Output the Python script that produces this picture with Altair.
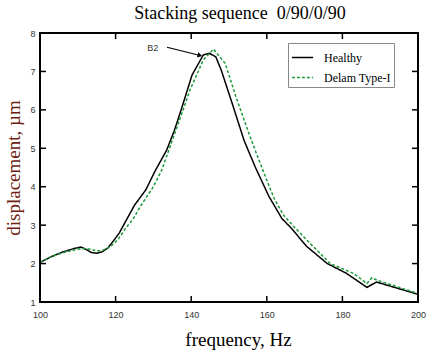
import altair as alt
import pandas as pd

# ---- data ----
healthy_f = [100, 103, 106, 109, 110.8, 112, 113.5, 115, 116.5, 118, 119.5, 121, 123, 125, 128,
             130.5, 133.5, 135.5, 137.5, 140.2, 143.2, 144.8, 146.5, 148, 151, 154, 157, 160.5,
             164, 166.5, 170.5, 176, 181, 186.5, 189, 200]
healthy_v = [2.03, 2.18, 2.30, 2.39, 2.43, 2.38, 2.29, 2.27, 2.31, 2.41, 2.60, 2.80, 3.16, 3.52, 3.92,
             4.42, 4.95, 5.45, 6.05, 6.90, 7.43, 7.47, 7.38, 7.02, 6.12, 5.20, 4.50, 3.76,
             3.17, 2.92, 2.45, 2.00, 1.75, 1.38, 1.52, 1.20]

delam_f = [100, 103, 106, 109, 111, 113, 115, 116.5, 118.5, 120.7, 122.5, 124.7, 126.5, 130, 132.2,
           134.4, 136.6, 139.7, 143.2, 145.9, 149, 152.1, 155.6, 157.5, 160, 162, 164.5, 167,
           171.5, 176.8, 183, 186.5, 187.8, 189.1, 200]
delam_v = [2.03, 2.18, 2.28, 2.35, 2.39, 2.38, 2.33, 2.34, 2.43, 2.63, 2.90, 3.17, 3.48, 4.00, 4.43,
           5.04, 5.65, 6.52, 7.30, 7.58, 7.21, 6.26, 5.30, 4.80, 4.17, 3.68, 3.25, 2.98,
           2.52, 2.00, 1.74, 1.48, 1.63, 1.57, 1.22]

series_names = ["Healthy", "Delam Type-I"]
series_colors = ["black", "#1f9a3c"]
x_ticks = [100, 120, 140, 160, 180, 200]
y_ticks = [1, 2, 3, 4, 5, 6, 7, 8]
x_inner_ticks = [120, 140, 160, 180]
y_inner_ticks = [2, 3, 4, 5, 6, 7]

annot_text = ["B2"]
annot_f = [129.8]
annot_v = [7.6]
arrow_from_f, arrow_from_v = [133.6], [7.63]
arrow_to_f, arrow_to_v = [142.1], [7.42]

W, H = 378, 269
SERIF = "Liberation Serif"
SANS = "Liberation Sans"
XMIN, XMAX, YMIN, YMAX = 100, 200, 1, 8
TICK_PX = 6
dx_tick = TICK_PX * (XMAX - XMIN) / W
dy_tick = TICK_PX * (YMAX - YMIN) / H

xscale = alt.Scale(domain=[XMIN, XMAX], nice=False, zero=False)
yscale = alt.Scale(domain=[YMIN, YMAX], nice=False, zero=False)

lines_df = pd.DataFrame({
    "freq": healthy_f + delam_f,
    "disp": healthy_v + delam_v,
    "series": [series_names[0]] * len(healthy_f) + [series_names[1]] * len(delam_f),
})

# box edges and inward ticks, all as segments built from the axis limits / tick lists
seg_rows = [
    (XMIN, XMAX, YMIN, YMIN), (XMIN, XMAX, YMAX, YMAX),
    (XMIN, XMIN, YMIN, YMAX), (XMAX, XMAX, YMIN, YMAX),
]
for t in x_inner_ticks:
    seg_rows.append((t, t, YMIN, YMIN + dy_tick))
    seg_rows.append((t, t, YMAX, YMAX - dy_tick))
for t in y_inner_ticks:
    seg_rows.append((XMIN, XMIN + dx_tick, t, t))
    seg_rows.append((XMAX, XMAX - dx_tick, t, t))
seg_df = pd.DataFrame(seg_rows, columns=["sx", "sx2", "sy", "sy2"])
seg_df["w"] = [2.0] * 4 + [1.5] * (len(seg_rows) - 4)

xaxis = alt.Axis(values=x_ticks, tickCount=6, ticks=False, domain=False, grid=False,
                 labelFont=SANS, labelFontSize=9, labelColor="#333333", labelPadding=8,
                 labelOverlap=False, labelFlush=False,
                 title="frequency, Hz", titleFont=SERIF, titleFontSize=19,
                 titleFontWeight="normal", titleColor="black", titleX=198, titleY=47,
                 titleBaseline="bottom", titleAlign="center")
yaxis = alt.Axis(values=y_ticks, tickCount=8, ticks=False, domain=False, grid=False,
                 labelFont=SANS, labelFontSize=9, labelColor="#333333", labelPadding=5,
                 labelOverlap=False, labelFlush=False,
                 title="displacement, µm", titleFont=SERIF, titleFontSize=19,
                 titleFontWeight="normal", titleColor="#6e2010", titlePadding=6)

legend = alt.Legend(title=None, orient="none", legendX=248, legendY=10,
                    strokeColor="#888888", fillColor="white", padding=3,
                    labelFont=SERIF, labelFontSize=12, labelColor="black",
                    symbolStrokeWidth=1.5, symbolSize=450, labelOffset=10)

lines = alt.Chart(lines_df).mark_line(strokeWidth=1.5).encode(
    x=alt.X("freq:Q", scale=xscale, axis=xaxis),
    y=alt.Y("disp:Q", scale=yscale, axis=yaxis),
    color=alt.Color("series:N", scale=alt.Scale(domain=series_names, range=series_colors),
                    legend=legend),
    strokeDash=alt.StrokeDash("series:N",
                              scale=alt.Scale(domain=series_names, range=[[1, 0], [3, 2]]),
                              legend=legend),
)

segments = alt.Chart(seg_df).mark_rule(color="black").encode(
    x=alt.X("sx:Q", scale=xscale), x2="sx2:Q",
    y=alt.Y("sy:Q", scale=yscale), y2="sy2:Q",
    strokeWidth=alt.StrokeWidth("w:Q", scale=None, legend=None),
)

annot_df = pd.DataFrame({"f": annot_f, "v": annot_v, "t": annot_text})
annot = alt.Chart(annot_df).mark_text(font=SANS, fontSize=9, color="#333333").encode(
    x=alt.X("f:Q", scale=xscale), y=alt.Y("v:Q", scale=yscale), text="t:N")

arrow_df = pd.DataFrame({"f": arrow_from_f, "v": arrow_from_v,
                         "f2": arrow_to_f, "v2": arrow_to_v})
arrow_line = alt.Chart(arrow_df).mark_rule(color="black", strokeWidth=1.2).encode(
    x=alt.X("f:Q", scale=xscale), y=alt.Y("v:Q", scale=yscale), x2="f2:Q", y2="v2:Q")
arrow_head = alt.Chart(arrow_df).mark_point(shape="triangle", filled=True, color="black",
                                            size=30, angle=104, opacity=1).encode(
    x=alt.X("f2:Q", scale=xscale), y=alt.Y("v2:Q", scale=yscale))

chart = alt.layer(lines, segments, annot, arrow_line, arrow_head).properties(
    width=W, height=H, background="white",
    title=alt.TitleParams("Stacking sequence\u00a0\u00a00/90/0/90", font=SERIF, fontSize=18,
                          fontWeight="normal", color="black", dx=11, offset=6),
    autosize=alt.AutoSizeParams(type="none"),
    padding={"left": 40, "top": 33, "right": 18, "bottom": 52},
).configure_view(stroke="black", strokeWidth=2).configure_axis(labelOverlap=False)

chart.save("out.html", embed_options={"renderer": "svg", "actions": False})
